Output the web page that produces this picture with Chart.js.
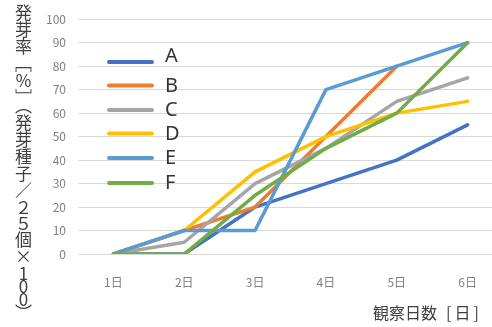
<!DOCTYPE html>
<html>
<head>
<meta charset="utf-8">
<script src="https://cdn.jsdelivr.net/npm/chart.js@4/dist/chart.umd.min.js"></script>
<style>
  html, body { margin: 0; padding: 0; background: #fff; overflow: hidden; }
  #wrap { position: relative; width: 492px; height: 327px; overflow: hidden; }
  #c { position: absolute; left: 0; top: 0; }
  #ytitle { position: absolute; left: 13px; top: 4px; writing-mode: vertical-rl; text-orientation: upright;
    font-family: 'Noto Sans CJK JP', sans-serif; font-size: 17px; color: #404040; line-height: 20px; white-space: nowrap; }
  #ytitle .n2 { letter-spacing: -1px; }
  #ytitle .n3 { letter-spacing: -4px; }
  #xtitle { position: absolute; left: 373px; top: 302px; font-family: 'Noto Sans CJK JP', sans-serif;
    font-size: 16px; color: #404040; white-space: nowrap; line-height: 20px; }
  #xtitle .br { margin-left: 9px; letter-spacing: 3px; }
</style>
</head>
<body>
<div id="wrap">
  <canvas id="c" width="510" height="327" style="width:510px;height:327px"></canvas>
  <div id="ytitle">発芽率［％］（発芽種子／<span class="n2">２５</span>個×<span class="n3">100</span>）</div>
  <div id="xtitle">観察日数<span class="br">[日]</span></div>
</div>
<script>
const categories = ['1日', '2日', '3日', '4日', '5日', '6日'];
const seriesNames = ['A', 'B', 'C', 'D', 'E', 'F'];
const seriesA = [0, 0, 20, 30, 40, 55];
const seriesB = [0, 10, 20, 50, 80, null];
const seriesC = [0, 5, 30, 45, 65, 75];
const seriesD = [0, 10, 35, 50, 60, 65];
const seriesE = [0, 10, 10, 70, 80, 90];
const seriesF = [0, 0, 25, 45, 60, 90];
const yTicks = [0, 10, 20, 30, 40, 50, 60, 70, 80, 90, 100];
const colors = ['#4472C4', '#ED7D31', '#A5A5A5', '#FFC000', '#5B9BD5', '#70AD47'];

const allSeries = [seriesA, seriesB, seriesC, seriesD, seriesE, seriesF];
const datasets = allSeries.map((d, i) => ({
  label: seriesNames[i],
  data: d,
  borderColor: colors[i],
  backgroundColor: colors[i],
  borderWidth: 3.5,
  pointRadius: 0,
  tension: 0,
  borderJoinStyle: 'round',
  borderCapStyle: 'round',
  fill: false,
  order: allSeries.length - 1 - i
}));

const legendPlugin = {
  id: 'innerLegend',
  afterDraw(chart) {
    const ctx = chart.ctx;
    const lineY = [62, 85.5, 110, 133.5, 158, 183];
    const textY = [56.5, 86, 110, 134, 158.5, 183];
    ctx.save();
    chart.data.datasets.forEach((ds, i) => {
      ctx.strokeStyle = ds.borderColor;
      ctx.lineWidth = 4;
      ctx.lineCap = 'round';
      ctx.beginPath();
      ctx.moveTo(109, lineY[i]);
      ctx.lineTo(152, lineY[i]);
      ctx.stroke();
      ctx.fillStyle = '#333333';
      ctx.font = '20px "Noto Sans", "Liberation Sans", sans-serif';
      ctx.textBaseline = 'middle';
      ctx.textAlign = 'left';
      ctx.fillText(ds.label, 165, textY[i]);
    });
    ctx.restore();
  }
};

const tickFont = { family: "'Liberation Sans Narrow', 'Arial Narrow', 'Noto Sans CJK JP', sans-serif", size: 12 };

new Chart(document.getElementById('c'), {
  type: 'line',
  data: { labels: categories, datasets },
  options: {
    responsive: false,
    animation: false,
    devicePixelRatio: 1,
    layout: { padding: { top: 13, right: 7, left: 0, bottom: 0 } },
    plugins: { legend: { display: false }, tooltip: { enabled: false } },
    scales: {
      x: {
        offset: true,
        grid: { display: false, drawTicks: false },
        border: { display: false },
        ticks: { color: '#808080', font: tickFont, padding: 21, maxRotation: 0 },
        afterFit(s) { s.height = 73; }
      },
      y: {
        min: 0, max: 100,
        afterBuildTicks(s) { s.ticks = yTicks.map(v => ({ value: v })); },
        grid: { color: '#D9D9D9', lineWidth: 1, drawTicks: false },
        border: { display: false },
        ticks: { color: '#808080', font: tickFont, padding: 12 },
        afterFit(s) { s.width = 78; }
      }
    }
  },
  plugins: [legendPlugin]
});
</script>
</body>
</html>
